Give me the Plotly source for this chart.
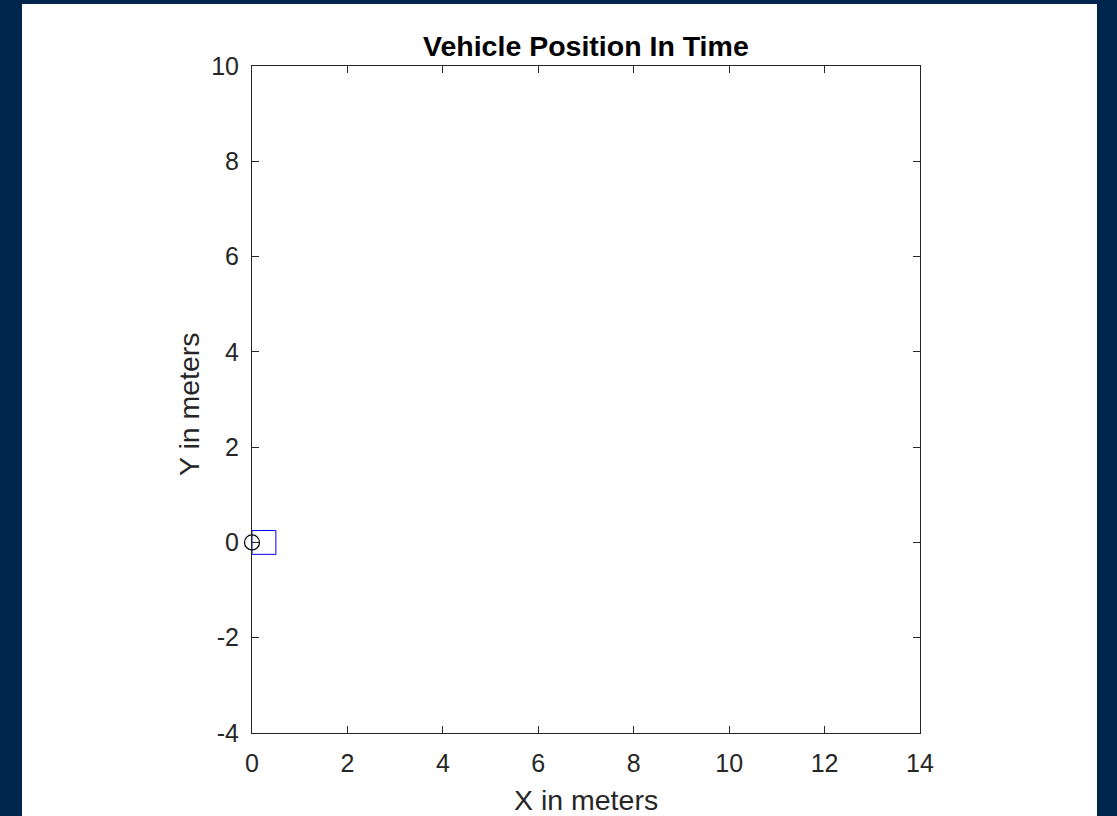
import plotly.graph_objects as go

# Data
vehicle_x = [0.0]
vehicle_y = [0.0]
body_length = 0.5
body_width = 0.5
heading_half = 0.15
x_range = [0, 14]
y_range = [-4, 10]
x_ticks = [0, 2, 4, 6, 8, 10, 12, 14]
y_ticks = [-4, -2, 0, 2, 4, 6, 8, 10]

cx, cy = vehicle_x[0], vehicle_y[0]
rect_x = [cx, cx + body_length, cx + body_length, cx, cx]
rect_y = [cy - body_width / 2, cy - body_width / 2, cy + body_width / 2, cy + body_width / 2, cy - body_width / 2]

fig = go.Figure()
fig.add_trace(go.Scatter(x=rect_x, y=rect_y, mode="lines",
                         line=dict(color="#0000FF", width=1), showlegend=False, hoverinfo="skip"))
fig.add_trace(go.Scatter(x=vehicle_x, y=vehicle_y, mode="markers", cliponaxis=False,
                         marker=dict(symbol="circle-open", size=15, color="#000000", line=dict(width=1.2)),
                         showlegend=False))
fig.add_trace(go.Scatter(x=[cx - heading_half, cx + heading_half], y=[cy, cy], mode="lines",
                         cliponaxis=False,
                         line=dict(color="#000000", width=1), showlegend=False, hoverinfo="skip"))

axis_common = dict(showline=True, linecolor="#262626", linewidth=1, mirror="ticks",
                   ticks="inside", ticklen=7, tickcolor="#262626", tickwidth=1,
                   showgrid=False, zeroline=False,
                   tickfont=dict(family="Liberation Sans, Arial", size=25, color="#262626"))

fig.update_xaxes(range=x_range, tickvals=x_ticks, ticktext=[str(v) for v in x_ticks],
                 ticklabelstandoff=8, **axis_common)
fig.update_yaxes(range=y_range, tickvals=y_ticks, ticktext=[str(v) for v in y_ticks],
                 ticklabelstandoff=7, **axis_common)

fig.update_layout(
    width=1117, height=816,
    margin=dict(l=252, r=197, t=66, b=83),
    paper_bgcolor="#00264D", plot_bgcolor="#FFFFFF",
    shapes=[dict(type="rect", xref="paper", yref="paper",
                 x0=(22 - 252) / 668, x1=(1097 - 252) / 668,
                 y0=(733 - 817) / 667, y1=(733 - 4) / 667,
                 fillcolor="#FFFFFF", line=dict(width=0), layer="below")],
    annotations=[
        dict(text="<b>Vehicle Position In Time</b>", xref="paper", yref="paper",
             x=0.5, y=(733 - 46) / 667, xanchor="center", yanchor="middle", showarrow=False,
             font=dict(family="Liberation Sans, Arial", size=28.5, color="#000000")),
        dict(text="X in meters", xref="paper", yref="paper",
             x=0.5, y=(733 - 800) / 667, xanchor="center", yanchor="middle", showarrow=False,
             font=dict(family="Liberation Sans, Arial", size=28.5, color="#262626")),
        dict(text="Y in meters", xref="paper", yref="paper",
             x=(189 - 252) / 668, y=(733 - 404) / 667, xanchor="center", yanchor="middle",
             showarrow=False, textangle=-90,
             font=dict(family="Liberation Sans, Arial", size=28.5, color="#262626")),
    ],
)

fig.write_html("out.html")
